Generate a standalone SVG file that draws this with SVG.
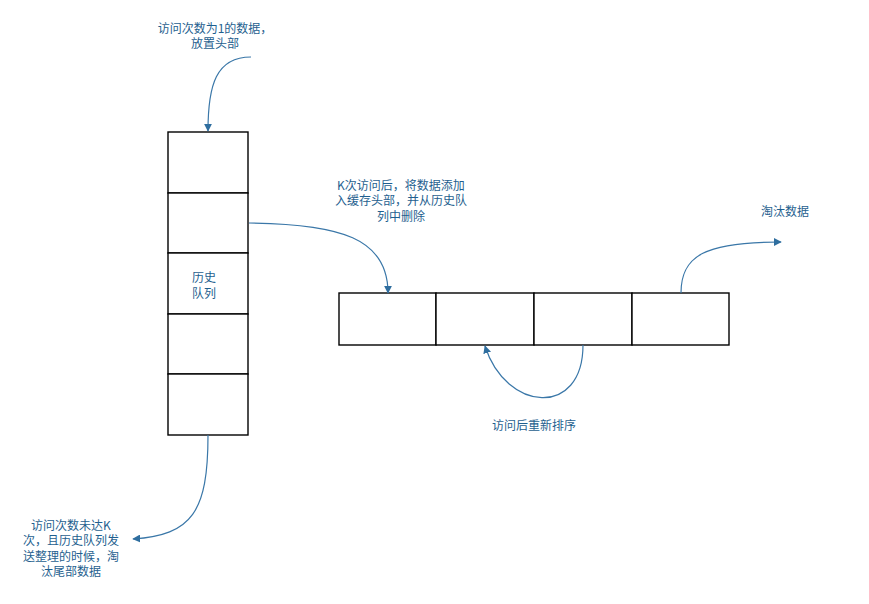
<svg xmlns="http://www.w3.org/2000/svg" width="869" height="604" viewBox="0 0 869 604">
  <style>
    .cell { fill: #ffffff; stroke: #000000; stroke-width: 1.4; }
    .lbl { font-family: "Noto Sans CJK SC", "Liberation Sans", sans-serif; font-size: 12px; fill: #1f5f8f; text-anchor: middle; }
    .conn { fill: none; stroke: #3a77a8; stroke-width: 1.2; marker-end: url(#arrow); }
  </style>
  <defs>
    <marker id="arrow" viewBox="0 0 10 10" refX="9" refY="5" markerWidth="8" markerHeight="8" markerUnits="userSpaceOnUse" orient="auto">
      <path d="M0,0 L10,5 L0,10 z" fill="#2f6e9f"/>
    </marker>
  </defs>
  <rect width="869" height="604" fill="#ffffff"/>

  <!-- history queue: vertical stack of five cells -->
  <g id="history-queue">
    <rect class="cell" x="168" y="132" width="80" height="61"/>
    <rect class="cell" x="168" y="193" width="80" height="60"/>
    <rect class="cell" x="168" y="253" width="80" height="61"/>
    <rect class="cell" x="168" y="314" width="80" height="60"/>
    <rect class="cell" x="168" y="374" width="80" height="61"/>
    <text class="lbl"><tspan x="204" y="282">历史</tspan><tspan x="204" y="298">队列</tspan></text>
  </g>

  <!-- cache queue: horizontal row of four cells -->
  <g id="cache-queue">
    <rect class="cell" x="339" y="293" width="97" height="52"/>
    <rect class="cell" x="436" y="293" width="98" height="52"/>
    <rect class="cell" x="534" y="293" width="98" height="52"/>
    <rect class="cell" x="632" y="293" width="97" height="52"/>
  </g>

  <!-- annotations -->
  <g id="label-new">
    <text class="lbl"><tspan x="215" y="32.5">访问次数为1的数据，</tspan><tspan x="215" y="48">放置头部</tspan></text>
  </g>
  <g id="label-promote">
    <text class="lbl"><tspan x="401" y="189.5">K次访问后，将数据添加</tspan><tspan x="401" y="205">入缓存头部，并从历史队</tspan><tspan x="401" y="220.5">列中删除</tspan></text>
  </g>
  <g id="label-evict-cache">
    <text class="lbl" x="785" y="216">淘汰数据</text>
  </g>
  <g id="label-reorder">
    <text class="lbl" x="534" y="430">访问后重新排序</text>
  </g>
  <g id="label-evict-history">
    <text class="lbl"><tspan x="71" y="529.5">访问次数未达K</tspan><tspan x="71" y="545">次，且历史队列发</tspan><tspan x="71" y="560.5">送整理的时候，淘</tspan><tspan x="71" y="576">汰尾部数据</tspan></text>
  </g>

  <!-- connectors -->
  <g id="connectors">
    <path class="conn" d="M251,57 C216,57 208,85 208,131"/>
    <path class="conn" d="M249,223 C340,224 388,238 388,293"/>
    <path class="conn" d="M583,345 C583,418 506,412 485,346"/>
    <path class="conn" d="M681,293 C681,255 706,242 781,242"/>
    <path class="conn" d="M208,435 C208,512 192,535 133,539"/>
  </g>
</svg>
